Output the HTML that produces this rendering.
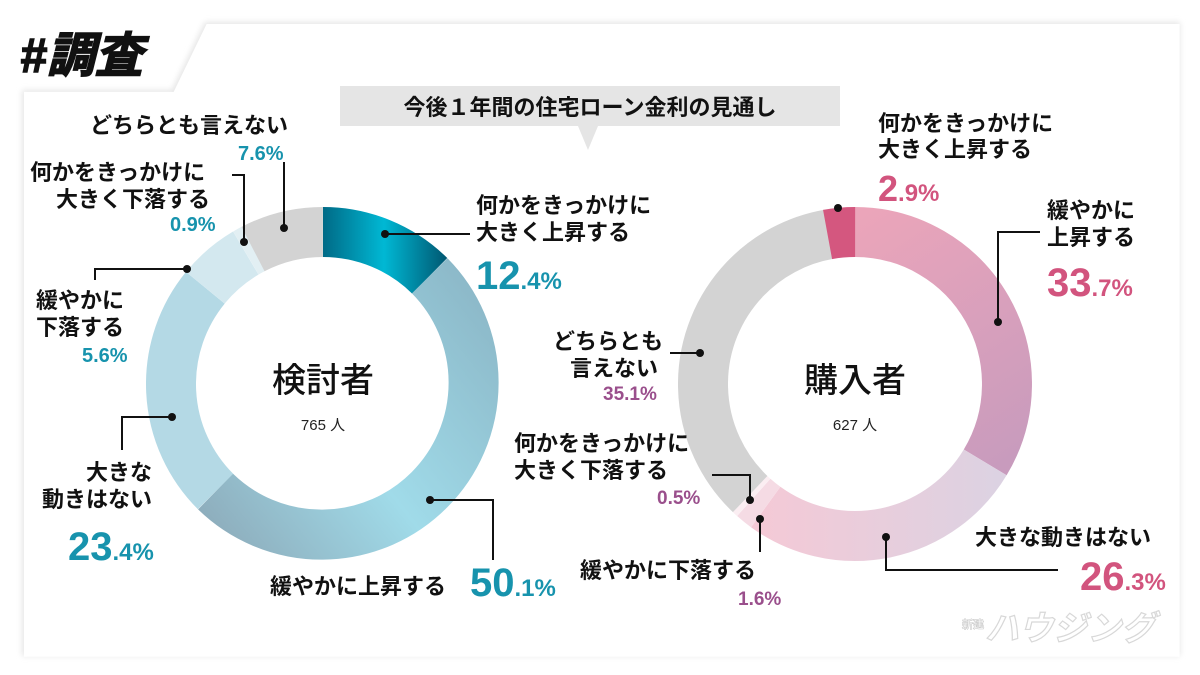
<!DOCTYPE html>
<html><head><meta charset="utf-8"><style>
body{margin:0;width:1200px;height:675px;background:#fff;overflow:hidden;font-family:"Liberation Sans","Noto Sans CJK JP",sans-serif;}
svg{position:absolute;left:0;top:0}
text{font-family:"Liberation Sans","Noto Sans CJK JP",sans-serif;font-weight:bold}
</style></head><body>
<svg width="1200" height="675" viewBox="0 0 1200 675">
<defs>
<linearGradient id="g1" gradientUnits="userSpaceOnUse" x1="323" y1="0" x2="445" y2="0"><stop offset="0" stop-color="#006a86"/><stop offset="0.5" stop-color="#00b8d4"/><stop offset="1" stop-color="#005a74"/></linearGradient>
<linearGradient id="g2" gradientUnits="userSpaceOnUse" x1="480" y1="290" x2="200" y2="510"><stop offset="0" stop-color="#8cb8c8"/><stop offset="0.55" stop-color="#a0dbe9"/><stop offset="1" stop-color="#8eaebd"/></linearGradient>
<linearGradient id="p1" gradientUnits="userSpaceOnUse" x1="855" y1="220" x2="1010" y2="460"><stop offset="0" stop-color="#eba5ba"/><stop offset="1" stop-color="#c89bbd"/></linearGradient>
<linearGradient id="p2" gradientUnits="userSpaceOnUse" x1="760" y1="0" x2="1000" y2="0"><stop offset="0" stop-color="#f4c9d6"/><stop offset="1" stop-color="#dcd2e2"/></linearGradient>
<filter id="sh" x="-5%" y="-5%" width="110%" height="110%"><feGaussianBlur stdDeviation="3"/></filter>
</defs>
<path d="M22,90 L172,90 L205,22 L1180,22 L1180,656 L22,656 Z" fill="#e6e6e6" filter="url(#sh)"/>
<path d="M22,90 L172,90 L205,22 L1180,22 L1180,656 L22,656 Z" fill="#fff" transform="translate(2,2) scale(0.998)"/>
<text x="20" y="72" font-size="48" font-style="italic" fill="#111" stroke="#111" stroke-width="1.5">#調査</text>
<rect x="340" y="86" width="500" height="40" fill="#e5e5e5"/>
<path d="M578,126 L598,126 L588,150 Z" fill="#e5e5e5"/>
<text x="590" y="115" font-size="22" text-anchor="middle" fill="#111">今後１年間の住宅ローン金利の見通し</text>

<g fill="none" stroke-width="50">
<path d="M323,232 A152,152 0 0 1 429.7,275.8" stroke="url(#g1)"/>
<path d="M429.7,275.8 A152,152 0 1 1 215.5,491.5" stroke="url(#g2)" transform="scale(-1,1) translate(-646,0)" opacity="0"/>
<path d="M429.7,275.8 A152,152 0 0 1 215.5,491.5" stroke="url(#g2)"/>
</g>
<g transform="translate(323,384) rotate(-90)" fill="none" stroke-width="50">
<circle r="152" stroke="#b4d9e5" stroke-dasharray="223.5 1000" transform="rotate(225)"/>
<circle r="152" stroke="#d3e8ef" stroke-dasharray="53.5 1000" transform="rotate(309.3)"/>
<circle r="152" stroke="#e2eff3" stroke-dasharray="8.6 1000" transform="rotate(329.5)"/>
<circle r="152" stroke="#d3d3d3" stroke-dasharray="72.6 1000" transform="rotate(332.6)"/>
</g>
<g fill="none" stroke-width="50">
<path d="M855,232 A152,152 0 0 1 985.2,462.4" stroke="url(#p1)"/>
<path d="M985.2,462.4 A152,152 0 0 1 765.7,507" stroke="url(#p2)"/>
</g>
<g transform="translate(855,384) rotate(-90)" fill="none" stroke-width="50">
<circle r="152" stroke="#f5dbe4" stroke-dasharray="15.3 1000" transform="rotate(216)"/>
<circle r="152" stroke="#fbeef2" stroke-dasharray="4.8 1000" transform="rotate(221.8)"/>
<circle r="152" stroke="#d3d3d3" stroke-dasharray="335.2 1000" transform="rotate(223.6)"/>
<circle r="152" stroke="#d4577f" stroke-dasharray="27.7 1000" transform="rotate(349.6)"/>
</g>
<text x="323" y="392" font-size="34" text-anchor="middle" fill="#111" style="font-weight:500">検討者</text>
<text x="323" y="430" font-size="15" text-anchor="middle" fill="#222" style="font-weight:normal">765 人</text>
<text x="855" y="392" font-size="34" text-anchor="middle" fill="#111" style="font-weight:500">購入者</text>
<text x="855" y="430" font-size="15" text-anchor="middle" fill="#222" style="font-weight:normal">627 人</text>

<g stroke="#111" stroke-width="2" fill="none">
<path d="M385,234 L470,234"/><path d="M430,500 L493,500 L493,560"/>
<path d="M284,228 L284,162"/><path d="M244,242 L244,175 L232,175"/>
<path d="M187,269 L95,269 L95,280"/><path d="M172,417 L122,417 L122,450"/>
<path d="M998,322 L998,232 L1040,232"/><path d="M700,353 L670,353"/>
<path d="M750,500 L750,475 L712,475"/><path d="M760,519 L760,552"/>
<path d="M886,537 L886,570 L1058,570"/>
</g>
<g fill="#111">
<circle cx="385" cy="234" r="4"/><circle cx="430" cy="500" r="4"/><circle cx="284" cy="228" r="4"/><circle cx="244" cy="242" r="4"/><circle cx="187" cy="269" r="4"/><circle cx="172" cy="417" r="4"/>
<circle cx="998" cy="322" r="4"/><circle cx="700" cy="353" r="4"/><circle cx="750" cy="500" r="4"/><circle cx="760" cy="519" r="4"/><circle cx="886" cy="537" r="4"/><circle cx="838" cy="208" r="4"/>
</g>
<g font-size="22" fill="#111">
<text x="476" y="213">何かをきっかけに</text><text x="476" y="240">大きく上昇する</text>
<text x="270" y="594">緩やかに上昇する</text>
<text x="90" y="133">どちらとも言えない</text>
<text x="30" y="180">何かをきっかけに</text><text x="56" y="207">大きく下落する</text>
<text x="36" y="308">緩やかに</text><text x="36" y="335">下落する</text>
<text x="86" y="480">大きな</text><text x="42" y="507">動きはない</text>
<text x="878" y="131">何かをきっかけに</text><text x="878" y="157">大きく上昇する</text>
<text x="1047" y="218">緩やかに</text><text x="1047" y="245">上昇する</text>
<text x="553" y="349">どちらとも</text><text x="570" y="376">言えない</text>
<text x="514" y="451">何かをきっかけに</text><text x="514" y="478">大きく下落する</text>
<text x="580" y="578">緩やかに下落する</text>
<text x="975" y="545">大きな動きはない</text>
</g>
<g fill="#1793ad">
<text x="476" y="289" font-size="40">12<tspan font-size="24">.4%</tspan></text>
<text x="470" y="596" font-size="40">50<tspan font-size="24">.1%</tspan></text>
<text x="238" y="160" font-size="20">7.6%</text>
<text x="170" y="231" font-size="20">0.9%</text>
<text x="82" y="362" font-size="20">5.6%</text>
<text x="68" y="560" font-size="40">23<tspan font-size="24">.4%</tspan></text>
</g>
<g fill="#d2547e">
<text x="878" y="201" font-size="36">2<tspan font-size="24">.9%</tspan></text>
<text x="1047" y="296" font-size="40">33<tspan font-size="24">.7%</tspan></text>
<text x="1080" y="590" font-size="40">26<tspan font-size="24">.3%</tspan></text>
</g>
<g fill="#9a4f8c" font-size="19">
<text x="603" y="400">35.1%</text>
<text x="657" y="504">0.5%</text>
<text x="738" y="605">1.6%</text>
</g>
<g fill="#fff">
<text x="985" y="640" font-size="34" font-style="italic" stroke="#d8d8d8" stroke-width="1.2">ハウジング</text>
<text x="962" y="628" font-size="11" stroke="#ccc" stroke-width="0.6">新建</text>
</g>
</svg>
</body></html>
